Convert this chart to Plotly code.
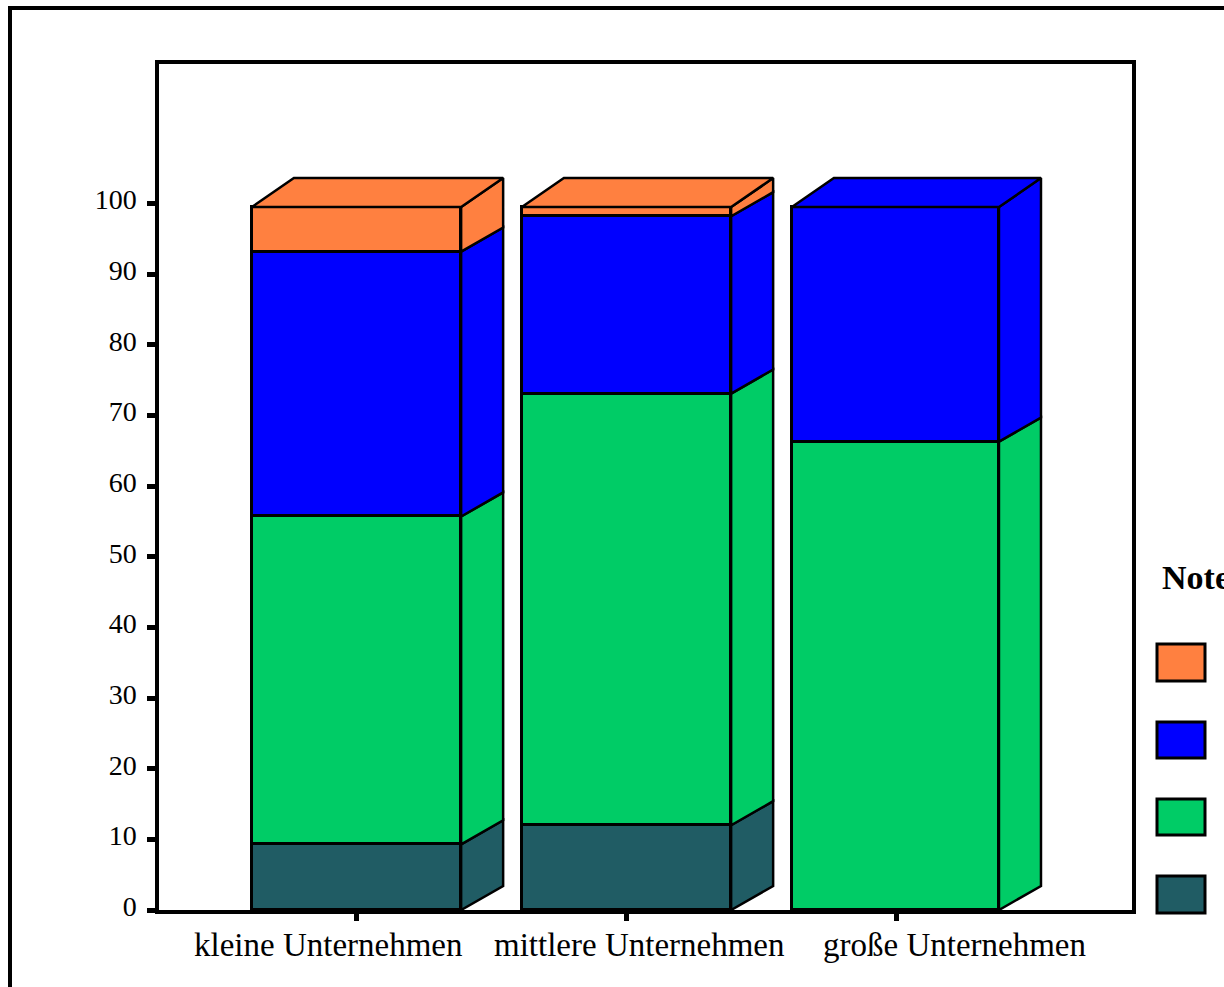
import plotly.graph_objects as go

categories = ["kleine Unternehmen", "mittlere Unternehmen", "große Unternehmen"]
legend_title = "Noten"
series_bottom_to_top = ["Note 4", "Note 3", "Note 2", "Note 1"]
teal_values = [9.3, 12.0, 0.0]
green_values = [46.4, 61.1, 66.3]
blue_values = [37.5, 25.1, 33.2]
orange_values = [6.3, 1.3, 0.0]
y_tick_values = [0, 10, 20, 30, 40, 50, 60, 70, 80, 90, 100]

COLORS = ["#205C64", "#00CC66", "#0000FF", "#FF8040"]
SERIES = [teal_values, green_values, blue_values, orange_values]
W, H = 1224, 987
L, R, T, B = 159, 1132, 64, 910
BAR_POS = [0, 1, 1.996]
BAR_W = [0.775, 0.775, 0.767]
DX, DY_TOP, DY_SIDE = 0.1556, 4.1, 3.4
FONT = "Liberation Serif"

fig = go.Figure()

# extruded side and top faces, derived from the data
for i, (c, w) in enumerate(zip(BAR_POS, BAR_W)):
    base = 0.0
    right = c + w / 2
    left = c - w / 2
    top_color = None
    total = sum(vals[i] for vals in SERIES)
    for vals, col in zip(SERIES, COLORS):
        v = vals[i]
        if v <= 0:
            continue
        upper = base + v
        back_upper = upper + (DY_TOP if upper >= total - 1e-9 else DY_SIDE)
        fig.add_trace(go.Scatter(
            x=[right, right + DX, right + DX, right, right],
            y=[base, base + DY_SIDE, back_upper, upper, base],
            mode="lines", fill="toself", fillcolor=col,
            line=dict(color="black", width=2.5), hoverinfo="skip", showlegend=False))
        base = upper
        top_color = col
    fig.add_trace(go.Scatter(
        x=[left, left + DX, right + DX, right, left],
        y=[base, base + DY_TOP, base + DY_TOP, base, base],
        mode="lines", fill="toself", fillcolor=top_color,
        line=dict(color="black", width=2.5), hoverinfo="skip", showlegend=False))

# front faces
for name, vals, col in zip(series_bottom_to_top, SERIES, COLORS):
    fig.add_trace(go.Bar(x=BAR_POS, y=vals, name=name, width=BAR_W, marker=dict(
        color=col, line=dict(color="black", width=3.5)), showlegend=False))


def px(x):
    return (x - L) / (R - L)


def py(y):
    return (B - y) / (B - T)


shapes = [
    dict(type="line", xref="paper", yref="paper", x0=px(8), x1=px(1224), y0=py(8), y1=py(8),
         line=dict(color="black", width=4)),
    dict(type="line", xref="paper", yref="paper", x0=px(10), x1=px(10), y0=py(6), y1=py(987),
         line=dict(color="black", width=4)),
]
swatches = [(876, 913), (799, 835), (722, 758), (644, 681)]
for (y0, y1), col in zip(swatches, COLORS):
    shapes.append(dict(type="rect", xref="paper", yref="paper", x0=px(1157), x1=px(1205),
                       y0=py(y1), y1=py(y0), fillcolor=col, line=dict(color="black", width=3)))

label_centres = [328, 639, 954]
annotations = [
    dict(text=c, xref="paper", yref="paper", x=px(cx), y=py(945), showarrow=False,
         xanchor="center", yanchor="middle", font=dict(family=FONT, size=33, color="black"))
    for c, cx in zip(categories, label_centres)
]
annotations.append(dict(text="<b>" + legend_title + "</b>", xref="paper", yref="paper", x=px(1160), y=py(577),
                        showarrow=False, xanchor="left", yanchor="middle",
                        font=dict(family=FONT, size=34, color="black")))

fig.update_layout(
    width=W, height=H, barmode="stack", bargap=0,
    margin=dict(l=L, r=W - R, t=T, b=H - B, pad=0),
    paper_bgcolor="white", plot_bgcolor="white", shapes=shapes, annotations=annotations,
    xaxis=dict(range=[(L - 356.5) / 270, (R - 356.5) / 270], tickvals=[0, 1, 2], ticktext=["", "", ""],
               ticks="outside", ticklen=7, tickwidth=5, tickcolor="black", showgrid=False, zeroline=False,
               showline=True, linecolor="black", linewidth=3.5, mirror=True),
    yaxis=dict(range=[0, (B - T) / 7.065], tickvals=y_tick_values, ticks="outside", ticklen=8, tickwidth=5,
               tickcolor="black", showgrid=False, zeroline=False, showline=True, linecolor="black",
               linewidth=3.5, mirror=True, tickfont=dict(family=FONT, size=28, color="black"),
               ticklabelstandoff=5, ticklabelshift=-4),
)
fig.write_html("out.html", config=dict(displayModeBar=False),
               post_script="document.body.style.margin='0';document.body.style.overflow='hidden';")
